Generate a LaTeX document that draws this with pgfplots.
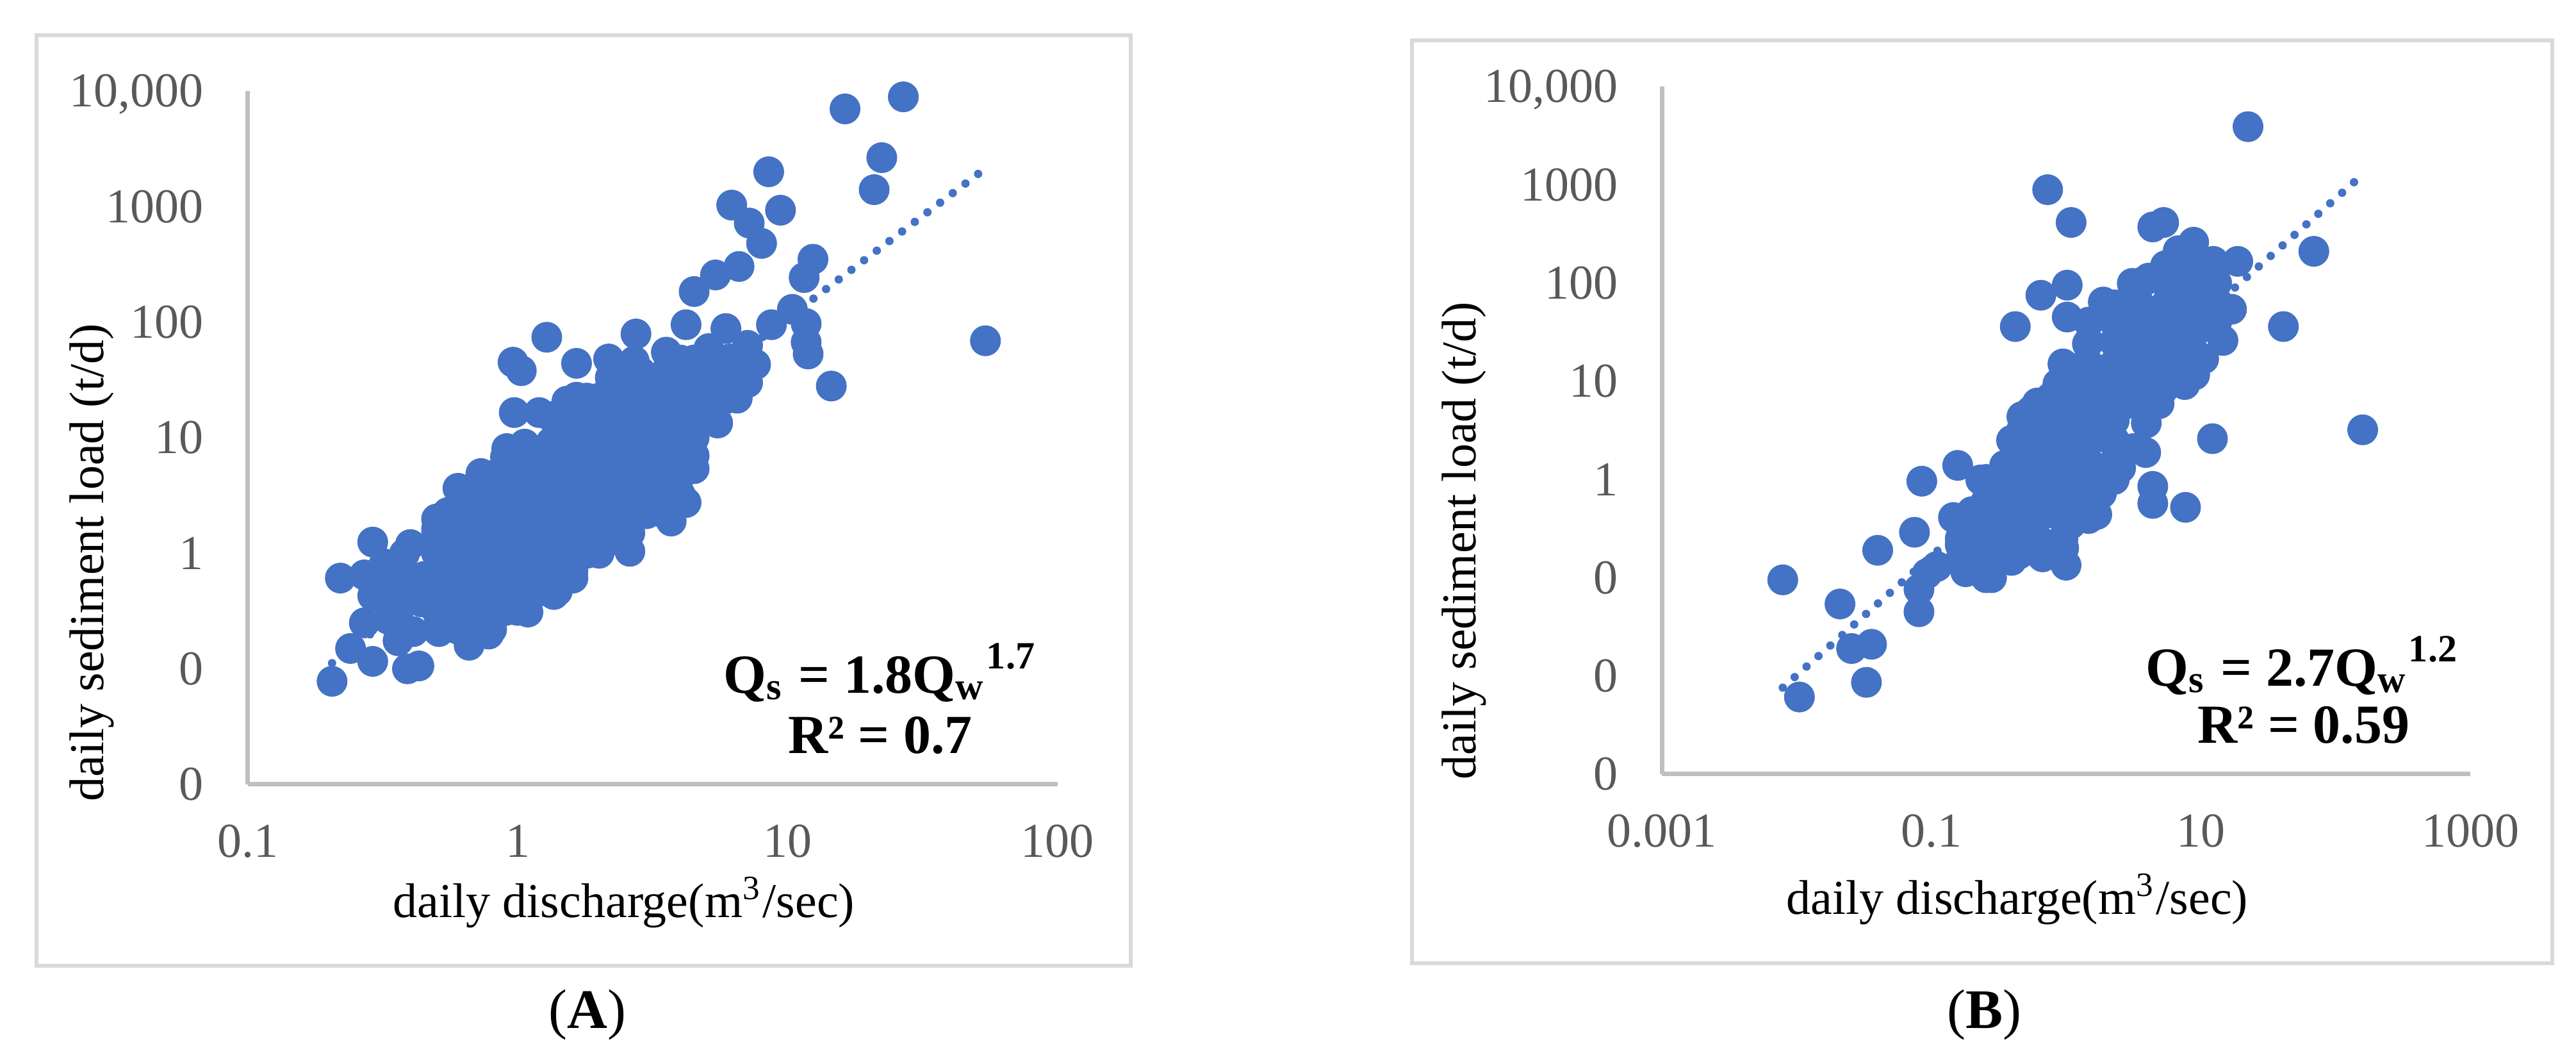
\documentclass[border=0pt]{standalone}
\usepackage{fontspec}
\setmainfont{Liberation Serif}
\usepackage{pgfplots}
\pgfplotsset{compat=1.18}
\definecolor{xlblue}{HTML}{4472C4}
\definecolor{tickgray}{HTML}{595959}
\definecolor{axgray}{HTML}{BFBFBF}
\definecolor{boxgray}{HTML}{D9D9D9}
\begin{document}
\begin{tikzpicture}
\path[use as bounding box] (0,0) rectangle (402.1pt,165.4pt);
\draw[boxgray, line width=0.6pt] (5.7pt,14.7pt) rectangle (176.5pt,159.9pt);
\draw[boxgray, line width=0.6pt] (220.4pt,15.1pt) rectangle (398.4pt,159.1pt);

\begin{axis}[scale only axis, xmode=log, ymode=log, anchor=south west, clip=false,
  at={(38.7pt,43.0pt)}, width=126.4pt, height=108.2pt,
  axis x line*=bottom, axis y line*=left,
  axis line style={draw=axgray, line width=0.7pt},
  x axis line style={-}, y axis line style={-},
  tick style={draw=none}, major tick length=0pt, minor tick length=0pt,
  tick label style={font=\fontsize{7.6}{9}\selectfont, text=tickgray},
  xticklabel style={anchor=base, yshift=-11.4pt, inner sep=0pt},
  yticklabel style={anchor=base east, xshift=-6.7pt, yshift=-2.5pt, inner sep=0pt},
  xmin=0.1, xmax=100, ymin=0.01, ymax=10000,
  xtick={0.1,1,10,100}, xticklabels={0.1,1,10,100},
  ytick={0.01,0.1,1,10,100,1000,10000}, yticklabels={0,0,1,10,100,1000,{10,000}}]
\addplot[xlblue, line width=1.3pt, line cap=round, dash pattern=on 0pt off 2.48pt] coordinates {(0.205,0.112) (54,2140)};
\addplot[only marks, mark=*, mark size=2.35pt, color=xlblue, mark options={solid, fill=xlblue, draw=xlblue, line width=0.1pt}] table {
Q S
26.8 8900
16.3 7000
22.3 2650
20.9 1400
8.5 2000
6.2 1030
7.2 720
8.0 480
9.4 930
12.4 350
11.5 243
6.6 303
5.4 256
4.5 184
4.2 95
5.9 88
8.7 95
10.4 129
11.7 97
11.7 67
11.9 53
14.5 28
54 69
2.74 79
3.55 55
5.1 59
7.1 63
7.6 43
1.65 44
2.2 33
2.7 46
3.6 40
4.9 32
7.1 30
6.5 22
5.0 15.6
4.5 5.4
4.2 2.75
3.7 1.9
2.6 1.04
2.4 1.5
4.0 10.8
0.205 0.078
0.29 0.116
0.39 0.10
0.43 0.106
0.24 0.15
0.27 0.25
0.33 0.27
0.22 0.61
0.27 0.65
0.29 1.25
0.38 0.99
0.32 0.60
0.41 0.21
0.51 0.21
0.66 0.16
0.78 0.20
1.09 0.31
1.36 0.44
1.6 0.61
1.28 74
0.96 45
1.03 38
0.97 16.5
1.2 16.5
1.52 20.7
1.06 8.8
0.9 6.8
0.73 4.9
0.6 3.65
0.5 1.63
2.73 2.83
3.4 4.2
1.6 0.87
2.1 1.22
0.68 0.27
0.51 0.49
0.68 0.72
0.9 1.38
1.36 2.33
1.8 3.65
2.38 5.1
3.15 8.6
2.07 11.1
1.56 6.6
1.18 3.9
2.73 18.7
3.6 15.4
3.6 36
4.8 30
1.8 1.38
1.03 0.87
0.59 0.38
0.78 0.52
0.45 0.63
0.40 0.43
0.50 0.63
0.62 0.92
0.77 1.19
0.96 1.74
1.19 2.25
1.48 2.9
1.84 4.25
2.29 6.2
2.85 8.05
3.55 10.4
0.36 0.29
0.44 0.38
0.55 0.49
0.69 0.63
0.86 0.81
1.07 1.04
1.33 1.35
1.65 1.98
2.05 2.55
2.56 3.3
3.18 4.8
0.50 1.04
0.62 1.53
0.77 2.25
0.96 3.3
1.19 4.8
1.48 6.2
1.84 8.05
2.29 10.4
2.85 15.2
3.55 22.4
0.55 2.25
0.73 2.9
0.91 4.25
1.07 6.2
1.33 9.15
1.65 13.4
2.05 17.3
2.56 25.4
3.18 28.9
3.96 25.4
2.17 48
2.85 37
1.65 22.4
1.33 15.2
0.73 4.8
0.91 8.05
0.50 1.98
0.40 1.19
0.32 0.81
0.29 0.43
0.36 0.175
5.5 13.4
4.4 8.05
6.1 48
0.36 0.22
0.36 0.32
0.36 0.47
0.36 0.7
0.5 0.22
0.5 0.32
0.5 0.47
0.5 0.7
0.5 1
0.5 1.5
0.6 0.22
0.6 0.32
0.6 0.47
0.6 0.7
0.6 1
0.6 1.5
0.6 2.2
0.7 0.22
0.7 0.32
0.7 0.47
0.7 0.7
0.7 1
0.7 1.5
0.7 2.2
0.7 3.2
0.8 0.22
0.8 0.32
0.8 0.47
0.8 0.7
0.8 1
0.8 1.5
0.8 2.2
0.8 3.2
0.8 4.7
0.9 0.32
0.9 0.47
0.9 0.7
0.9 1
0.9 1.5
0.9 2.2
0.9 3.2
0.9 4.7
1.0 0.32
1.0 0.47
1.0 0.7
1.0 1
1.0 1.5
1.0 2.2
1.0 3.2
1.0 4.7
1.0 7
1.2 0.47
1.2 0.7
1.2 1
1.2 1.5
1.2 2.2
1.2 3.2
1.2 4.7
1.2 7
1.4 0.47
1.4 0.7
1.4 1
1.4 1.5
1.4 2.2
1.4 3.2
1.4 4.7
1.4 7
1.4 10
1.6 0.7
1.6 1
1.6 1.5
1.6 2.2
1.6 3.2
1.6 4.7
1.6 7
1.6 10
1.6 15
1.8 1
1.8 1.5
1.8 2.2
1.8 3.2
1.8 4.7
1.8 7
1.8 10
1.8 15
1.8 22
2.0 1
2.0 1.5
2.0 2.2
2.0 3.2
2.0 4.7
2.0 7
2.0 10
2.0 15
2.0 22
2.3 1.5
2.3 2.2
2.3 3.2
2.3 4.7
2.3 7
2.3 10
2.3 15
2.3 22
2.6 1.5
2.6 2.2
2.6 3.2
2.6 4.7
2.6 7
2.6 10
2.6 15
2.6 22
2.6 32
3.0 2.2
3.0 3.2
3.0 4.7
3.0 7
3.0 10
3.0 15
3.0 22
3.0 32
3.5 2.2
3.5 3.2
3.5 4.7
3.5 7
3.5 10
3.5 15
3.5 22
3.5 32
4.0 3.2
4.0 4.7
4.0 7
4.0 10
4.0 15
4.0 22
4.0 32
4.0 47
4.5 7
4.5 10
4.5 15
4.5 22
4.5 32
4.5 47
5.0 15
5.0 22
5.0 32
5.0 47
6.0 22
6.0 32
6.0 47
7.0 32
7.0 47
};
\end{axis}

\begin{axis}[scale only axis, xmode=log, ymode=log, anchor=south west, clip=false,
  at={(259.4pt,44.6pt)}, width=126.2pt, height=107.3pt,
  axis x line*=bottom, axis y line*=left,
  axis line style={draw=axgray, line width=0.7pt},
  x axis line style={-}, y axis line style={-},
  tick style={draw=none}, major tick length=0pt, minor tick length=0pt,
  tick label style={font=\fontsize{7.6}{9}\selectfont, text=tickgray},
  xticklabel style={anchor=base, yshift=-11.4pt, inner sep=0pt},
  yticklabel style={anchor=base east, xshift=-6.7pt, yshift=-2.5pt, inner sep=0pt},
  xmin=0.001, xmax=1000, ymin=0.001, ymax=10000,
  xtick={0.001,0.1,10,1000}, xticklabels={0.001,0.1,10,1000},
  ytick={0.001,0.01,0.1,1,10,100,1000,10000}, yticklabels={0,0,0,1,10,100,1000,{10,000}}]
\addplot[xlblue, line width=1.3pt, line cap=round, dash pattern=on 0pt off 2.48pt] coordinates {(0.0079,0.0076) (159,1270)};
\addplot[only marks, mark=*, mark size=2.35pt, color=xlblue, mark options={solid, fill=xlblue, draw=xlblue, line width=0.1pt}] table {
Q S
0.0079 0.095
0.0105 0.0061
0.021 0.054
0.033 0.0086
0.040 0.19
0.0256 0.019
0.036 0.021
0.081 0.045
0.085 0.96
0.075 0.29
0.081 0.076
0.093 0.11
0.11 0.13
0.157 1.39
0.233 0.99
0.146 0.41
0.20 0.47
0.21 0.26
0.18 0.115
0.28 0.10
0.42 36
0.65 75
1.02 95
1.02 45
1.89 64
3.7 102
1.44 24
3.9 1.88
4.4 0.85
4.4 0.57
7.7 0.52
1.69 0.44
1.0 0.134
0.67 0.163
0.45 0.175
0.35 0.30
0.35 1.39
0.47 4.36
0.47 3.23
0.87 9.4
1.29 13.9
5.2 8.1
2.1 2.58
1.89 1.02
1.08 0.35
0.62 0.65
0.82 2.03
0.55 1.39
1.08 4.36
1.89 6.45
3.3 13.9
5.8 30
3.3 43
8.1 11.9
0.35 0.56
0.27 0.32
0.62 3.0
1.44 6.45
2.5 20
22.4 3900
0.73 890
1.09 413
4.4 372
5.3 413
8.85 260
6.8 213
12.4 166
18.8 166
69 210
5.8 140
4.1 112
3.1 99
8.0 73
5.8 68
16.9 54
10.3 38
14.6 26
41 36
6.4 20
9.0 11.6
5.3 8.6
3.6 6.1
159 3.2
12.2 2.6
2.2 2.5
2.1 1.16
0.96 0.20
2.35 10.7
3.7 25
2.6 37
1.5 11.6
0.77 6.85
0.55 5.0
1.02 3.7
1.35 1.72
0.77 0.80
0.59 0.37
9.45 119
10.5 88
13.1 65
0.32 0.62
0.44 0.97
0.61 1.52
0.85 2.39
1.18 3.76
1.64 5.9
2.28 9.25
3.16 14.5
4.39 22.8
6.1 35.8
8.5 56
0.255 0.25
0.395 0.395
0.55 0.62
0.76 0.97
1.06 1.52
1.47 2.39
2.04 3.76
2.83 5.9
3.94 9.25
5.47 14.5
7.6 22.8
10.5 35.8
0.49 2.06
0.68 3.23
0.95 5.07
1.32 7.96
1.83 12.5
2.54 19.6
3.53 30.8
4.9 48
6.8 76
0.164 0.216
0.228 0.16
0.35 0.216
0.55 0.29
0.76 0.46
1.18 0.72
1.83 0.72
2.54 1.31
3.16 2.06
3.94 3.76
4.9 5.9
7.6 9.25
10.5 16.9
0.164 0.15
0.164 0.25
0.164 0.4
0.255 0.1
0.255 0.15
0.255 0.4
0.255 0.6
0.255 1
0.394 0.15
0.394 0.25
0.394 0.6
0.394 1
0.394 1.5
0.394 2.5
0.612 0.25
0.612 0.4
0.612 0.6
0.612 1
0.612 1.5
0.612 2.5
0.612 4
0.612 6
0.948 0.25
0.948 0.4
0.948 0.6
0.948 1
0.948 1.5
0.948 2.5
0.948 4
0.948 6
0.948 10
0.948 15
1.47 0.4
1.47 0.6
1.47 1
1.47 1.5
1.47 2.5
1.47 4
1.47 6
1.47 10
1.47 15
1.47 25
1.47 40
2.28 1
2.28 1.5
2.28 2.5
2.28 4
2.28 6
2.28 10
2.28 15
2.28 25
2.28 40
2.28 60
3.53 6
3.53 10
3.53 15
3.53 25
3.53 40
3.53 60
3.53 100
5.47 10
5.47 15
5.47 25
5.47 40
5.47 60
5.47 100
5.47 150
8.47 15
8.47 25
8.47 40
8.47 60
8.47 100
8.47 150
13.1 40
13.1 60
13.1 100
13.1 150
};
\end{axis}

\node[anchor=base, font=\fontsize{7.6}{9}\selectfont] at (97.4pt,22.2pt) {daily discharge(m\textsuperscript{3}/sec)};
\node[anchor=base, rotate=90, font=\fontsize{7.6}{9}\selectfont] at (16.1pt,77.6pt) {daily sediment load (t/d)};
\node[anchor=base, font=\fontsize{7.6}{9}\selectfont] at (314.9pt,22.7pt) {daily discharge(m\textsuperscript{3}/sec)};
\node[anchor=base, rotate=90, font=\fontsize{7.6}{9}\selectfont] at (230.3pt,81.0pt) {daily sediment load (t/d)};

\node[anchor=base, font=\bfseries\fontsize{8.6}{10}\selectfont] at (137.5pt,57.2pt) {Q\textsubscript{s} = 1.8Q\textsubscript{w}\textsuperscript{1.7}};
\node[anchor=base, font=\bfseries\fontsize{8.6}{10}\selectfont] at (137.4pt,47.8pt) {R² = 0.7};
\node[anchor=base, font=\bfseries\fontsize{8.6}{10}\selectfont] at (359.5pt,58.3pt) {Q\textsubscript{s} = 2.7Q\textsubscript{w}\textsuperscript{1.2}};
\node[anchor=base, font=\bfseries\fontsize{8.6}{10}\selectfont] at (359.6pt,49.4pt) {R² = 0.59};

\node[anchor=base, font=\fontsize{8.7}{10}\selectfont] at (91.7pt,4.9pt) {(\textbf{A})};
\node[anchor=base, font=\fontsize{8.7}{10}\selectfont] at (309.7pt,4.9pt) {(\textbf{B})};
\end{tikzpicture}
\end{document}
